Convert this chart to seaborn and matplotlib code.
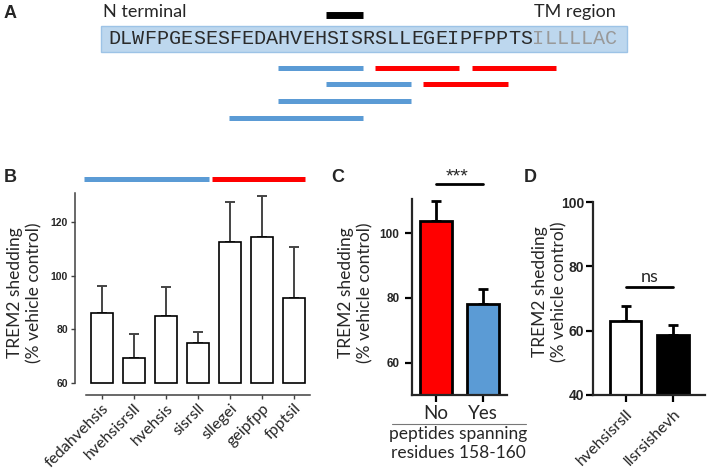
import numpy as np
import pandas as pd
import matplotlib
matplotlib.use("Agg")
import matplotlib.pyplot as plt
from matplotlib.patches import Rectangle
import seaborn as sns

W, H = 709, 472
BLUE = "#5B9BD5"
RED = "#FF0000"

# --- panel A: TREM2 stalk sequence and peptide coverage
sequence = "DLWFPGESESFEDAHVEHSISRSLLEGEIPFPPTSILLLLAC"
tm_start = 35            # first residue of the TM region (grey letters)
mark_span = (18, 20)     # residues 158-160 (black mark)

# --- panel B: individual peptides
b_peptides = ["fedahvehsis", "hvehsisrsll", "hvehsis", "sisrsll",
              "sllegei", "geipfpp", "fpptsil"]
b_spanning = ["Yes", "Yes", "Yes", "Yes", "No", "No", "No"]
b_rows = [3, 2, 0, 1, 0, 1, 0]   # row of each peptide in panel A
b_means = [86.0, 69.3, 84.8, 74.9, 112.6, 114.4, 91.5]
b_sem = [10.0, 8.8, 10.9, 4.2, 14.7, 15.0, 19.1]

# --- panel C: grouped by spanning residues 158-160
c_groups = ["No", "Yes"]
c_means = [103.8, 78.2]
c_sem = [6.1, 4.6]

# --- panel D: peptide vs scrambled
d_peptides = ["hvehsisrsll", "llsrsishevh"]
d_means = [63.0, 58.8]
d_sem = [4.6, 3.1]

sns.set_style("ticks")
plt.rcParams["font.family"] = ["Lato", "DejaVu Sans"]

fig = plt.figure(figsize=(W / 100, H / 100), dpi=100)


def px_axes(x0, y0, x1, y1):
    return fig.add_axes([x0 / W, 1 - y1 / H, (x1 - x0) / W, (y1 - y0) / H])


def panel_letter(x, y, s):
    fig.text(x / W, 1 - y / H, s, fontsize=13, fontweight="bold",
             family="Liberation Sans", ha="left", va="center")


def ylabel(x, y):
    fig.text(x / W, 1 - y / H, "TREM2 shedding\n(% vehicle control)",
             rotation=90, ha="center", va="center", fontsize=12.5,
             linespacing=1.25, multialignment="center")


def bold_ticks(ax, size):
    for lab in ax.get_yticklabels():
        lab.set_fontweight("bold")
        lab.set_family("Liberation Sans")
        lab.set_fontsize(size)


# ---------------- A ----------------
axA = px_axes(0, 0, W, 130)
pitch, x_first = 12.12, 114.06
axA.set_xlim(-x_first / pitch, (W - x_first) / pitch)
axA.set_ylim(3.72, -4.02)
axA.axis("off")

n = len(sequence)
axA.add_patch(Rectangle((-1.08, -2.47), n - 0.5 + 0.82 + 1.08, 1.55,
                        facecolor="#BDD7EE", edgecolor="#9DC3E6", lw=1))
for i, ch in enumerate(sequence):
    axA.text(i, -1.72, ch, family="Liberation Mono", fontsize=14.5,
             ha="center", va="center",
             color="#999999" if i >= tm_start else "#2b2b2b")
axA.hlines(-3.15, mark_span[0] - 0.5, mark_span[1] + 0.5, color="black", lw=5)
axA.text(-0.91, -3.3, "N terminal", fontsize=13, ha="left", va="center")
axA.text(41.41, -3.3, "TM region", fontsize=13, ha="right", va="center")
for pep, span, row in zip(b_peptides, b_spanning, b_rows):
    start = sequence.find(pep.upper())
    end = start + len(pep) - 1
    axA.hlines(row, start - 0.5, end + 0.5, lw=3.6,
               color=BLUE if span == "Yes" else RED)

# ---------------- B ----------------
axB = px_axes(75, 193, 315, 383)
dfB = pd.DataFrame({"peptide": b_peptides, "shedding": b_means})
sns.barplot(data=dfB, x="peptide", y="shedding", color="white",
            edgecolor="black", linewidth=1.2, width=0.69, errorbar=None, ax=axB)
b_base = 60
for p in axB.patches:
    top = p.get_height()
    p.set_y(b_base)
    p.set_height(top - b_base)
    p.set_clip_on(False)
axB.errorbar(range(len(b_means)), b_means, yerr=[np.zeros(len(b_sem)), b_sem],
             fmt="none", ecolor="#444444", elinewidth=1.4, capsize=3.6,
             capthick=1.4, zorder=0.5)
axB.set_xlim(-0.84, 6.66)
axB.set_ylim(60, 130.7)
axB.set_yticks([60, 80, 100, 120])
axB.set_xlabel("")
axB.set_ylabel("")
sns.despine(ax=axB)
for s in ("left", "bottom"):
    axB.spines[s].set_color("#404040")
    axB.spines[s].set_linewidth(1.1)
axB.spines["bottom"].set_position(("outward", 8.6))
axB.spines["bottom"].set_bounds(-0.5, 6.5)
axB.tick_params(axis="both", length=3, width=1, color="#404040")
axB.tick_params(axis="y", pad=2)
axB.tick_params(axis="x", pad=1.5)
axB.set_xticks(range(len(b_peptides)))
axB.set_xticklabels(b_peptides, rotation=45, ha="right",
                    rotation_mode="anchor", fontsize=11.5)
bold_ticks(axB, 7.5)
# colour bars above panel B marking spanning / non-spanning peptides
for grp, col in (("Yes", BLUE), ("No", RED)):
    idx = [i for i, s in enumerate(b_spanning) if s == grp]
    axB.hlines(1.074, min(idx) - 0.55, max(idx) + 0.35, color=col, lw=3.6,
               transform=axB.get_xaxis_transform(), clip_on=False)

# ---------------- C ----------------
axC = px_axes(412, 199, 507, 395)
dfC = pd.DataFrame({"spanning": c_groups, "shedding": c_means})
sns.barplot(data=dfC, x="spanning", y="shedding", hue="spanning",
            palette=[RED, BLUE], saturation=1, edgecolor="black",
            linewidth=2, width=0.7, errorbar=None, legend=False, ax=axC)
axC.errorbar(range(2), c_means, yerr=[np.zeros(2), c_sem], fmt="none",
             ecolor="black", elinewidth=2, capsize=3.3, capthick=2, zorder=0.5)
axC.set_xlim(-0.51, 1.51)
axC.set_ylim(50, 110.5)
axC.set_yticks([60, 80, 100])
axC.set_ylabel("")
sns.despine(ax=axC)
for s in ("left", "bottom"):
    axC.spines[s].set_linewidth(1.6)
axC.tick_params(axis="both", length=5, width=1.6, color="black")
axC.tick_params(axis="x", labelsize=13.5, pad=2)
axC.tick_params(axis="y", pad=4)
bold_ticks(axC, 8.5)
axC.set_xlabel("peptides spanning\nresidues 158-160", fontsize=12.5,
               linespacing=1.2)
axC.xaxis.set_label_coords(0.484, -0.16)
axC.plot([-0.21, 1.2], [-0.148, -0.148], transform=axC.transAxes,
         color="#777777", lw=0.8, clip_on=False)
axC.plot([0, 1], [115.1, 115.1], color="black", lw=2, clip_on=False)
axC.text(0.45, 117.3, "***", ha="center", va="center", fontsize=14,
         family="Liberation Sans")

# ---------------- D ----------------
axD = px_axes(593, 202, 705, 395)
dfD = pd.DataFrame({"peptide": d_peptides, "shedding": d_means})
sns.barplot(data=dfD, x="peptide", y="shedding", hue="peptide",
            palette=["white", "black"], saturation=1, edgecolor="black",
            linewidth=2, width=0.66, errorbar=None, legend=False, ax=axD)
axD.errorbar(range(2), d_means, yerr=[np.zeros(2), d_sem], fmt="none",
             ecolor="black", elinewidth=2, capsize=3.6, capthick=2, zorder=0.5)
axD.set_xlim(-0.70, 1.68)
axD.set_ylim(40, 100)
axD.set_yticks([40, 60, 80, 100])
axD.set_xlabel("")
axD.set_ylabel("")
sns.despine(ax=axD)
for s in ("left", "bottom"):
    axD.spines[s].set_linewidth(1.6)
axD.tick_params(axis="both", length=5, width=1.6, color="black")
axD.tick_params(axis="y", pad=1.5)
axD.set_xticks(range(2))
axD.set_xticklabels(d_peptides, rotation=45, ha="right",
                    rotation_mode="anchor", fontsize=11.5)
bold_ticks(axD, 10)
axD.plot([0, 1], [73.5, 73.5], color="black", lw=2, clip_on=False)
axD.text(0.5, 76.6, "ns", ha="center", va="center", fontsize=13)

# panel letters and y labels
panel_letter(4, 13, "A")
panel_letter(4, 177, "B")
panel_letter(331, 178, "C")
panel_letter(524, 178, "D")
ylabel(25, 293)
ylabel(356, 293)
ylabel(550, 292)

fig.savefig("out.png", dpi=100)
